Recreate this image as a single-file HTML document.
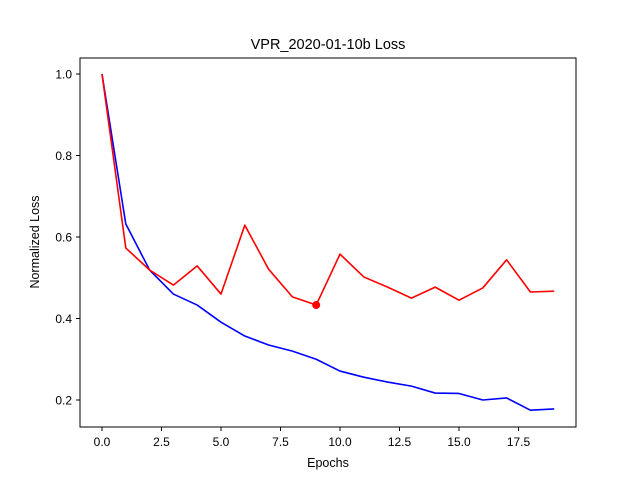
<!DOCTYPE html>
<html><head><meta charset="utf-8"><style>body{margin:0;background:#fff}svg{display:block;font-family:"Liberation Sans","DejaVu Sans",sans-serif}</style></head>
<body>
<svg id="chart" width="640" height="480">
<rect x="0" y="0" width="640" height="480" fill="#fff"/>
<text x="328" y="49" text-anchor="middle" font-size="14.5">VPR_2020-01-10b Loss</text>
<g id="plot"></g>
<rect x="80" y="58" width="496" height="369" fill="none" stroke="#000" stroke-width="1"/>
<text x="328" y="467" text-anchor="middle" font-size="12.5">Epochs</text>
<text x="0" y="0" transform="translate(39,242) rotate(-90)" text-anchor="middle" font-size="12.5">Normalized Loss</text>
</svg>
<script>
const epochs=[0,1,2,3,4,5,6,7,8,9,10,11,12,13,14,15,16,17,18,19];
const trainLoss=[1.0,0.632,0.519,0.46,0.433,0.391,0.357,0.335,0.32,0.30,0.271,0.256,0.244,0.234,0.217,0.216,0.2,0.205,0.175,0.178];
const valLoss=[1.0,0.573,0.519,0.482,0.529,0.46,0.629,0.521,0.453,0.433,0.558,0.502,0.477,0.45,0.477,0.445,0.475,0.544,0.465,0.467];
const xTicks=[0,2.5,5,7.5,10,12.5,15,17.5];
const xTickLabels=["0.0","2.5","5.0","7.5","10.0","12.5","15.0","17.5"];
const yTicks=[0.2,0.4,0.6,0.8,1.0];
const yTickLabels=["0.2","0.4","0.6","0.8","1.0"];
const NS="http://www.w3.org/2000/svg";
const X=v=>102+v*23.8;
const Y=v=>74+(1.0-v)*407.5;
const g=document.getElementById('plot');
function mk(t,a){const e=document.createElementNS(NS,t);for(const k in a)e.setAttribute(k,a[k]);g.appendChild(e);return e;}
xTicks.forEach((t,i)=>{
const l=mk('line',{x1:X(t),x2:X(t),y1:427,y2:431,stroke:'#000'});


const tx=mk('text',{x:X(t),y:446,'text-anchor':'middle','font-size':'12'});tx.textContent=xTickLabels[i];


});
yTicks.forEach((t,i)=>{
const l=mk('line',{x1:76,x2:80,y1:Y(t),y2:Y(t),stroke:'#000'});


const tx=mk('text',{x:72,y:Y(t)+4.5,'text-anchor':'end','font-size':'12'});tx.textContent=yTickLabels[i];


});
function line(vals,color,name){
const p=mk('polyline',{points:vals.map((v,i)=>X(epochs[i])+','+Y(v)).join(' '),fill:'none',stroke:color,'stroke-width':1.6,'stroke-linejoin':'round'});


}
line(trainLoss,'#0000ff','train-loss-line');
line(valLoss,'#ff0000','validation-loss-line');
let mi=0;valLoss.forEach((v,i)=>{if(v<valLoss[mi])mi=i;});
const d=mk('circle',{cx:X(epochs[mi]),cy:Y(valLoss[mi]),r:4,fill:'#ff0000'});


</script>
</body></html>
